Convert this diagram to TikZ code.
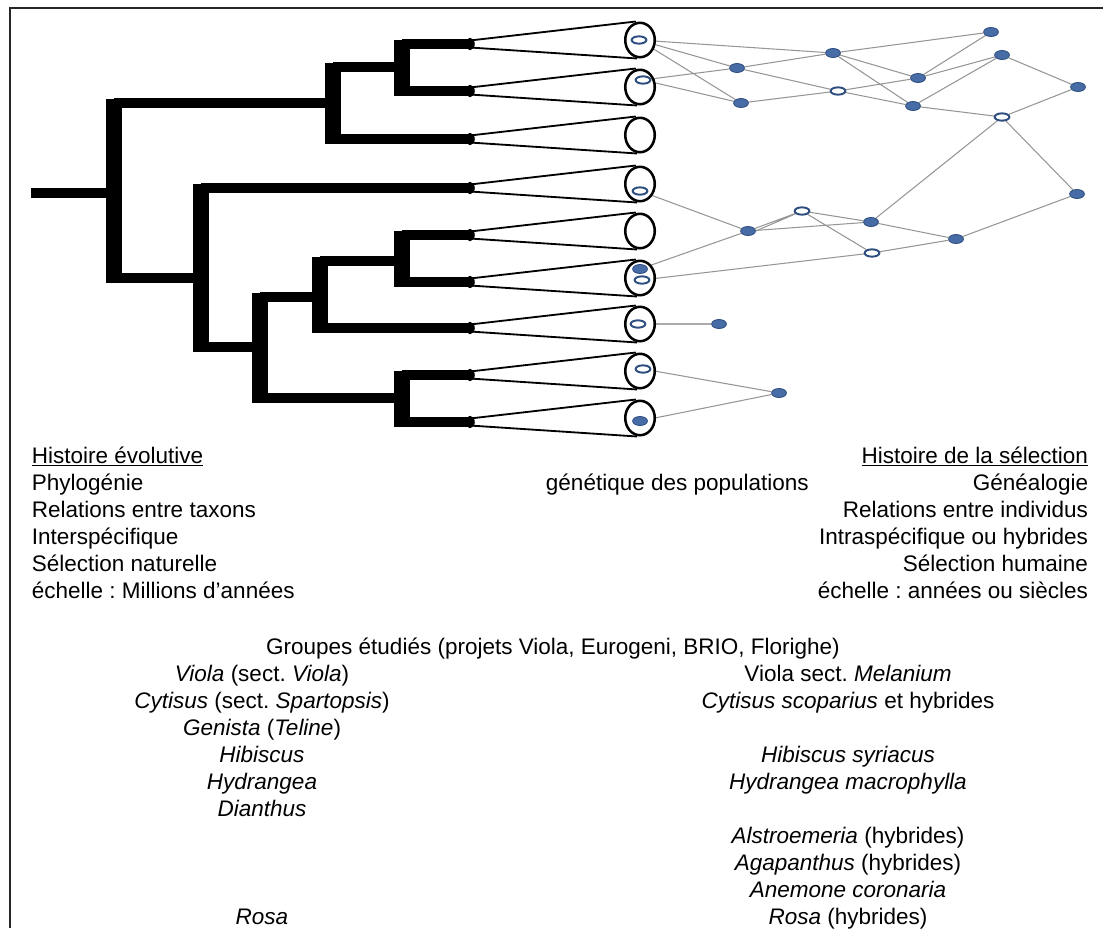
\documentclass[tikz,border=0pt]{standalone}
\usepackage{fontspec}
\setmainfont{Liberation Sans}
\usetikzlibrary{shapes.geometric,backgrounds}
\frenchspacing

\definecolor{indblue}{RGB}{72,108,166}
\definecolor{indedge}{RGB}{47,78,128}
\definecolor{linkgray}{RGB}{150,150,150}

\begin{document}
\begin{tikzpicture}[x=0.025cm, y=-0.025cm,
    font=\fontsize{16}{19}\selectfont,
    hbranch/.style = {line width=6.5pt},
    vbranch/.style = {line width=11pt, shorten <=-3.2pt, shorten >=-3.2pt},
    taxon/.style = {shape=ellipse, draw, fill=white, line width=1.8pt,
                    minimum width=21pt, minimum height=24.5pt, inner sep=0pt},
    coneline/.style = {line width=1.3pt},
    indiv/.style = {shape=ellipse, draw=indedge, fill=indblue, line width=0.6pt,
                    minimum width=10.5pt, minimum height=6.4pt, inner sep=0pt},
    hole/.style = {indiv, fill=white, line width=1.4pt, minimum height=5.2pt},
    link/.style = {draw=linkgray, line width=0.75pt}]

    \useasboundingbox (0,0) rectangle (1103,928);
    \draw[line width=1.6pt, black!85] (10,928) -- (10,8) -- (1103,8);

    % taxa as cones
    \foreach \i/\y in {1/40, 2/87, 3/135, 4/184, 5/231, 6/278, 7/324, 8/371, 9/418} {
        \node[taxon] (cone\i) at (640,\y) {};
        \coordinate (tip\i) at (470,{\y+4});
    }

    % phylogeny
    \coordinate (root) at (31,193);
    \coordinate (b0) at (114,193);
    \coordinate (b1) at (333,103);
    \coordinate (b2) at (402,67);
    \coordinate (b3) at (201,278);
    \coordinate (b4) at (260,347);
    \coordinate (b5) at (320,297);
    \coordinate (b6) at (402,261);
    \coordinate (b7) at (402,398);

    \draw[hbranch] (root) -- (b0);
    \draw[hbranch] (b0 |- b1) -- (b1) (b0 |- b3) -- (b3);
    \draw[hbranch] (b1 |- b2) -- (b2) (b1 |- tip3) -- (tip3);
    \draw[hbranch] (b2 |- tip1) -- (tip1) (b2 |- tip2) -- (tip2);
    \draw[hbranch] (b3 |- tip4) -- (tip4) (b3 |- b4) -- (b4);
    \draw[hbranch] (b4 |- b5) -- (b5) (b4 |- b7) -- (b7);
    \draw[hbranch] (b5 |- b6) -- (b6) (b5 |- tip7) -- (tip7);
    \draw[hbranch] (b6 |- tip5) -- (tip5) (b6 |- tip6) -- (tip6);
    \draw[hbranch] (b7 |- tip8) -- (tip8) (b7 |- tip9) -- (tip9);

    \draw[vbranch] (b0 |- b1) -- (b0 |- b3);
    \draw[vbranch] (b1 |- b2) -- (b1 |- tip3);
    \draw[vbranch] (b2 |- tip1) -- (b2 |- tip2);
    \draw[vbranch] (b3 |- tip4) -- (b3 |- b4);
    \draw[vbranch] (b4 |- b5) -- (b4 |- b7);
    \draw[vbranch] (b5 |- b6) -- (b5 |- tip7);
    \draw[vbranch] (b6 |- tip5) -- (b6 |- tip6);
    \draw[vbranch] (b7 |- tip8) -- (b7 |- tip9);

    \foreach \i in {1,...,9} {
        \fill (tip\i) ellipse [x radius=3.4pt, y radius=4.4pt];
        \draw[coneline] ([yshift=2.5pt]tip\i) -- ([xshift=-3pt]cone\i.north);
        \draw[coneline] ([yshift=-2.5pt]tip\i) -- ([xshift=-2pt]cone\i.south);
    }

    % individuals sampled in the taxa
    \node[hole] (s1) at (639,40) {};
    \node[hole] (s2) at (643,80) {};
    \node[hole] (s4) at (640,191) {};
    \node[indiv] (s6a) at (640,269) {};
    \node[hole] (s6b) at (642,280) {};
    \node[hole] (s7) at (638,324) {};
    \node[hole] (s8) at (643,369) {};
    \node[indiv] (s9) at (640,421) {};

    % genealogy
    \node[indiv] (a) at (737,68) {};
    \node[indiv] (b) at (741,103) {};
    \node[indiv] (c) at (833,53) {};
    \node[hole]  (d) at (838,91) {};
    \node[indiv] (e) at (918,78) {};
    \node[indiv] (f) at (913,106) {};
    \node[indiv] (g) at (991,32) {};
    \node[indiv] (h) at (1002,55) {};
    \node[indiv] (i) at (1078,87) {};
    \node[hole]  (j) at (1002,117) {};
    \node[indiv] (k) at (1077,194) {};
    \node[indiv] (l) at (748,231) {};
    \node[hole]  (m) at (802,211) {};
    \node[indiv] (n) at (871,222) {};
    \node[hole]  (o) at (872,253) {};
    \node[indiv] (p) at (956,239) {};
    \node[indiv] (q) at (719,324) {};
    \node[indiv] (r) at (779,393) {};

    \begin{scope}[on background layer]
        \draw[link] (s1) -- (c) (s1) -- (a) (s1) -- (b) (s2) -- (a) (s2) -- (b);
        \draw[link] (a) -- (c) (a) -- (d) (b) -- (d);
        \draw[link] (c) -- (g) (c) -- (e) (c) -- (f) (d) -- (e) (d) -- (f);
        \draw[link] (e) -- (g) (e) -- (h) (f) -- (h) (f) -- (j);
        \draw[link] (h) -- (i) (j) -- (i) (j) -- (k) (j) -- (n);
        \draw[link] (s4) -- (l) (s6a) -- (l) (l) -- (m) (l.east) -- (m);
        \draw[link] (l) -- (n) (m) -- (n) (m) -- (o) (s6b) -- (o);
        \draw[link] (n) -- (p) (o) -- (p) (p) -- (k);
        \draw[link, line width=2pt, draw=black!33] (s7) -- (q);
        \draw[link] (s8) -- (r) (s9) -- (r);
    \end{scope}

    % texts
    \foreach \t [count=\k from 0] in {\underline{Histoire évolutive}, Phylogénie,
            Relations entre taxons, Interspécifique, Sélection naturelle,
            échelle : Millions d’années}
        \node[anchor=base west] (evo\k) at (27,{463+27*\k}) {\t};
    \foreach \t [count=\k from 0] in {\underline{Histoire de la sélection}, Généalogie,
            Relations entre individus, Intraspécifique ou hybrides, Sélection humaine,
            échelle : années ou siècles}
        \node[anchor=base east] (sel\k) at (1093,{463+27*\k}) {\t};
    \node[anchor=base west] (popgen) at (541,490) {génétique des populations};

    \node[anchor=base] (groups) at (553,654) {Groupes étudiés (projets Viola, Eurogeni, BRIO, Florighe)};
    \foreach \k/\t in {1/{\textit{Viola} (sect. \textit{Viola})},
            2/{\textit{Cytisus} (sect. \textit{Spartopsis})},
            3/{\textit{Genista} (\textit{Teline})},
            4/{\textit{Hibiscus}}, 5/{\textit{Hydrangea}}, 6/{\textit{Dianthus}},
            10/{\textit{Rosa}}}
        \node[anchor=base] (wild\k) at (262,{681+27.1*(\k-1)}) {\t};
    \foreach \k/\t in {1/{Viola sect. \textit{Melanium}},
            2/{\textit{Cytisus scoparius} et hybrides},
            4/{\textit{Hibiscus syriacus}}, 5/{\textit{Hydrangea macrophylla}},
            7/{\textit{Alstroemeria} (hybrides)}, 8/{\textit{Agapanthus} (hybrides)},
            9/{\textit{Anemone coronaria}}, 10/{\textit{Rosa} (hybrides)}}
        \node[anchor=base] (crop\k) at (848,{681+27.1*(\k-1)}) {\t};
\end{tikzpicture}
\end{document}
